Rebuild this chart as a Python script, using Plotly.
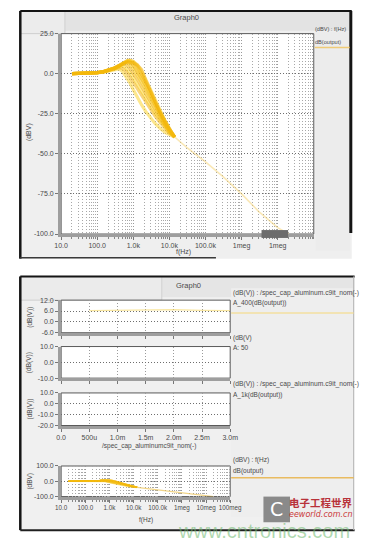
import plotly.graph_objects as go

W, H = 378, 545

# ---- frequency response family: dB(output) vs f(Hz) ----
freq = [20, 50, 100, 150, 200, 300, 400, 500, 600, 700, 800, 1000,
        1300, 1700, 2200, 3000, 4000, 5500, 7500, 10000, 14000]

resp_1 = [0, 0.2, 0.5, 1.0, 1.6, 2.6, 3.0, 1.5, -1.0, -3.5, -5.5, -10.0,
          -15.0, -19.5, -23.5, -27.5, -31.0, -34.0, -36.5, -38.0, -39.5]
resp_2 = [0, 0.2, 0.6, 1.1, 1.8, 2.9, 3.8, 3.5, 2.0, 0.0, -2.0, -5.5,
          -9.5, -13.5, -17.5, -22.5, -26.5, -30.5, -34.0, -37.0, -39.5]
resp_3 = [0, 0.2, 0.6, 1.2, 1.9, 3.1, 4.3, 5.0, 4.0, 2.5, 0.8, -2.5,
          -6.5, -10.5, -15.0, -20.0, -24.5, -29.0, -33.0, -36.5, -39.5]
resp_4 = [0, 0.2, 0.6, 1.2, 2.0, 3.3, 4.6, 5.8, 6.0, 5.0, 3.5, 0.5,
          -3.5, -8.0, -12.5, -17.5, -22.5, -27.5, -32.0, -36.0, -39.5]
resp_5 = [0, 0.2, 0.7, 1.3, 2.0, 3.4, 4.8, 6.1, 7.0, 6.8, 5.8, 3.0,
          -1.0, -5.5, -10.0, -15.5, -21.0, -26.5, -31.5, -35.5, -39.5]
resp_6 = [0, 0.2, 0.7, 1.3, 2.1, 3.5, 5.0, 6.3, 7.2, 7.5, 7.0, 4.8,
          1.0, -3.5, -8.0, -14.0, -19.5, -25.5, -31.0, -35.0, -39.5]
resp_7 = [0, 0.2, 0.7, 1.3, 2.1, 3.5, 5.0, 6.4, 7.4, 8.0, 7.9, 6.3,
          2.8, -1.8, -6.5, -12.5, -18.5, -24.5, -30.0, -34.8, -39.5]
resp_8 = [0, 0.2, 0.7, 1.3, 2.1, 3.6, 5.1, 6.5, 7.6, 8.3, 8.5, 7.5,
          4.5, -0.2, -5.0, -11.0, -17.5, -24.0, -29.5, -34.5, -39.5]
resp_9 = [0, 0.2, 0.7, 1.3, 2.1, 3.6, 5.1, 6.4, 7.4, 8.0, 8.1, 7.6,
          5.5, 1.5, -3.5, -10.0, -16.5, -23.0, -29.0, -34.2, -39.5]
resp_10 = [0, 0.2, 0.7, 1.3, 2.1, 3.5, 4.9, 6.1, 6.9, 7.3, 7.2, 6.8,
           5.4, 2.5, -4.0, -11.0, -17.5, -24.0, -29.5, -34.5, -39.5]
responses = [resp_1, resp_2, resp_3, resp_4, resp_5,
             resp_6, resp_7, resp_8, resp_9, resp_10]

# high-frequency roll-off shared by all runs
tail_freq = [14000, 30000, 100000, 300000, 1e6, 3e6, 1e7, 2e7]
tail_db = [-39.5, -46.0, -55.0, -64.0, -75.0, -86.0, -96.0, -100.0]

# ---- A_400 dB(output) vs /spec_cap_aluminum.c9it_nom ----
cap_nom = [0.5e-3, 1.0e-3, 1.5e-3, 2.0e-3, 2.5e-3, 3.0e-3]
a400_db = [6.2, 6.4, 6.9, 6.8, 6.4, 6.2]

# ---- tick definitions ----
freq_top_vals = [10, 100, 1e3, 1e4, 1e5, 1e6, 1e7]
freq_top_text = ["10.0", "100.0", "1.0k", "10.0k", "100.0k", "1meg", "1meg"]
freq_bot_vals = [10, 100, 1e3, 1e4, 1e5, 1e6, 1e7, 1e8]
freq_bot_text = ["10.0", "100.0", "1.0k", "10.0k", "100.0k", "1meg", "10meg", "100meg"]
db_top_vals = [-100, -75, -50, -25, 0, 25]
db_top_text = ["-100.0", "-75.0", "-50.0", "-25.0", "0.0", "25.0"]
cap_vals = [0, 0.5e-3, 1.0e-3, 1.5e-3, 2.0e-3, 2.5e-3, 3.0e-3]
cap_text = ["0.0", "500u", "1.0m", "1.5m", "2.0m", "2.5m", "3.0m"]
p1_vals, p1_text = [-6, 0, 6, 12], ["-6.0", "0.0", "6.0", "12.0"]
p2_vals, p2_text = [-10, 0, 10], ["-10.0", "0.0", "10.0"]
p3_vals, p3_text = [-20, -10, 0, 10], ["-20.0", "-10.0", "0.0", "10.0"]
p4_vals, p4_text = [-100, 0, 100], ["-100.0", "0.0", "100.0"]


def px(x):
    return x / W


def py(y):
    return 1 - y / H


FONT = "Liberation Sans"
TXT = "#4a4a4a"
DOTS = "1px,2px"


def tfont(size=7):
    return dict(family=FONT, size=size, color=TXT)


fig = go.Figure()

bundle_colors = ["rgba(252,208,30,0.5)", "rgba(240,172,0,0.5)"]
for k, r in enumerate(responses):
    c = bundle_colors[k % 2]
    fig.add_trace(go.Scatter(x=freq, y=r, mode="lines", line=dict(color=c, width=3.2),
                             xaxis="x", yaxis="y", hoverinfo="skip"))
    fig.add_trace(go.Scatter(x=freq, y=r, mode="lines", line=dict(color=c, width=1.6),
                             xaxis="x5", yaxis="y5", hoverinfo="skip"))
fig.add_trace(go.Scatter(x=tail_freq, y=tail_db, mode="lines",
                         line=dict(color="rgba(245,210,110,0.5)", width=1.6),
                         xaxis="x", yaxis="y", hoverinfo="skip"))
fig.add_trace(go.Scatter(x=tail_freq, y=tail_db, mode="lines",
                         line=dict(color="rgba(235,190,70,0.65)", width=1.2),
                         xaxis="x5", yaxis="y5", hoverinfo="skip"))
fig.add_trace(go.Scatter(x=cap_nom, y=a400_db, mode="lines",
                         line=dict(color="rgba(245,215,100,0.6)", width=1.3),
                         xaxis="x2", yaxis="y2", hoverinfo="skip"))
# A: 50 and A_1k sweeps have no points inside the shown window
fig.add_trace(go.Scatter(x=[], y=[], xaxis="x3", yaxis="y3"))
fig.add_trace(go.Scatter(x=[], y=[], xaxis="x4", yaxis="y4"))

# plot-area boxes in pixels (x0, x1, y0, y1)
BOX_TOP = (57, 323, 30, 233)
BOX_P1 = (57, 235, 300, 333)
BOX_P2 = (57, 235, 347, 379)
BOX_P3 = (57, 235, 394, 427)
BOX_P4 = (57, 235, 468, 499)


def dom(box):
    x0, x1, y0, y1 = box
    return [px(x0), px(x1)], [py(y1), py(y0)]


GRID = "#9a9a9a"
AXL = "#9e9e9e"


def xlog(box, anchor, vals, text, fs):
    xd, _ = dom(box)
    return dict(domain=xd, anchor=anchor, type="log", range=[1, 8],
                tickmode="array", tickvals=vals, ticktext=text, tickfont=tfont(fs),
                tickangle=0, ticks="outside", ticklen=3, tickcolor="#777",
                showline=True, linewidth=3, linecolor=AXL,
                showgrid=True, gridcolor=GRID, griddash=DOTS, gridwidth=1,
                minor=dict(dtick="D1", ticks="outside", ticklen=2, tickcolor="#888",
                           showgrid=True, gridcolor="#a8a8a8", griddash=DOTS, gridwidth=1),
                zeroline=False, fixedrange=True)


def xlin(box, anchor, labels):
    xd, _ = dom(box)
    return dict(domain=xd, anchor=anchor, range=[0, 3.0e-3],
                tickmode="array", tickvals=cap_vals, ticktext=cap_text,
                showticklabels=labels, tickfont=tfont(7), tickangle=0,
                ticks="outside", ticklen=3, tickcolor="#777",
                showline=True, linewidth=3, linecolor=AXL,
                showgrid=True, gridcolor=GRID, griddash=DOTS, gridwidth=1,
                zeroline=False, fixedrange=True)


def ylin(box, anchor, rng, vals, text):
    _, yd = dom(box)
    return dict(domain=yd, anchor=anchor, range=rng,
                tickmode="array", tickvals=vals, ticktext=text, tickfont=tfont(7),
                ticks="outside", ticklen=3, tickcolor="#777",
                showline=True, linewidth=3, linecolor=AXL,
                showgrid=True, gridcolor="#6e6e6e", griddash=DOTS, gridwidth=1,
                zeroline=False, fixedrange=True)


fig.update_layout(
    xaxis=xlog(BOX_TOP, "y", freq_top_vals, freq_top_text, 7),
    yaxis=ylin(BOX_TOP, "x", [-100, 25], db_top_vals, db_top_text),
    xaxis2=xlin(BOX_P1, "y2", False),
    yaxis2=ylin(BOX_P1, "x2", [-6, 12], p1_vals, p1_text),
    xaxis3=xlin(BOX_P2, "y3", False),
    yaxis3=ylin(BOX_P2, "x3", [-10, 10], p2_vals, p2_text),
    xaxis4=xlin(BOX_P3, "y4", True),
    yaxis4=ylin(BOX_P3, "x4", [-20, 10], p3_vals, p3_text),
    xaxis5=xlog(BOX_P4, "y5", freq_bot_vals, freq_bot_text, 6.3),
    yaxis5=ylin(BOX_P4, "x5", [-100, 100], p4_vals, p4_text),
)

shapes = []


def rect(x0, x1, y0, y1, fill=None, line=None, lw=0, layer="below"):
    shapes.append(dict(type="rect", xref="paper", yref="paper",
                       x0=px(x0), x1=px(x1), y0=py(y1), y1=py(y0),
                       fillcolor=fill or "rgba(0,0,0,0)",
                       line=dict(color=line or "rgba(0,0,0,0)", width=lw),
                       layer=layer))


def hline(x0, x1, y, color, lw, layer="above"):
    shapes.append(dict(type="line", xref="paper", yref="paper",
                       x0=px(x0), x1=px(x1), y0=py(y), y1=py(y),
                       line=dict(color=color, width=lw), layer=layer))


def vline(x, y0, y1, color, lw, layer="above"):
    shapes.append(dict(type="line", xref="paper", yref="paper",
                       x0=px(x), x1=px(x), y0=py(y0), y1=py(y1),
                       line=dict(color=color, width=lw), layer=layer))


# window backgrounds
rect(14, 363, 7, 258, fill="#efefef")
rect(14, 363, 7, 27, fill="#e3e3e3")
rect(14, 61, 7, 30, fill="#ececec", line="#cfcfcf", lw=1)
rect(14, 366, 276, 533, fill="#f0f0f0")
rect(14, 366, 276, 297, fill="#e5e5e5")
rect(14, 163, 276, 300, fill="#ebebeb", line="#d0d0d0", lw=1)
# legend strips
rect(325, 361, 28, 250, fill="#ececec")
rect(236, 364, 288, 520, fill="#eeeeee")
# white plot areas
for b in (BOX_TOP, BOX_P1, BOX_P2, BOX_P3, BOX_P4):
    rect(b[0], b[1], b[2], b[3], fill="#ffffff", line="#5a5a5a", lw=1)

# window frames
vline(14, 7, 258, "#151515", 2.5)
hline(14, 363, 7, "#151515", 2)
vline(362, 7, 232, "#151515", 3)
hline(14, 220, 257, "#3a3a3a", 1.5)
vline(14, 276, 533, "#151515", 2.5)
hline(14, 366, 276, "#151515", 2)
hline(14, 366, 533, "#202020", 2)
vline(365, 276, 533, "#b5b5b5", 1)

# legend swatches
hline(324, 361, 44, "rgba(240,195,90,0.8)", 1.5)
hline(236, 365, 313, "rgba(245,220,140,0.8)", 1.5)
hline(236, 365, 480, "rgba(232,178,70,0.85)", 1.5)

# scroll marker on the top frequency axis
shapes.append(dict(type="rect", xref="paper", yref="paper",
                   x0=px(268), x1=px(296), y0=py(237), y1=py(229),
                   fillcolor="#6c6c6c", line=dict(width=0), layer="above"))

# watermark logo block
rect(270, 298, 499, 525, fill="#8a8a8a", layer="above")

annotations = []


def text(x, y, s, size=7, color=TXT, anchor="left", angle=0, family=FONT):
    annotations.append(dict(x=px(x), y=py(y), xref="paper", yref="paper", text=s,
                            showarrow=False, xanchor=anchor, yanchor="middle",
                            textangle=angle, borderpad=0,
                            font=dict(family=family, size=size, color=color)))


text(189, 14, "Graph0", 7.5, anchor="center")
text(191, 285, "Graph0", 7.5, anchor="center")

text(323, 25, "(dBV) : f(Hz)", 5.6)
text(323, 38, "dB(output)", 5.6)
text(186, 251, "f(Hz)", 7, anchor="center")
text(24, 130, "(dBV)", 7, anchor="center", angle=-90)

text(237, 293, "(dB(V)) : /spec_cap_aluminum.c9it_nom(-)", 6.7)
text(237, 303, "A_400(dB(output))", 6.5)
text(237, 338, "(dB(V)", 6.5)
text(237, 348, "A: 50", 6.5)
text(237, 385, "(dB(V)) : /spec_cap_aluminum.c9it_nom(-)", 6.7)
text(237, 396, "A_1k(dB(output))", 6.5)
text(237, 462, "(dBV) : f(Hz)", 6.5)
text(237, 473, "dB(output)", 6.5)

text(24, 317, "(dB(V))", 6.5, anchor="center", angle=-90)
text(24, 363, "(dB(V))", 6.5, anchor="center", angle=-90)
text(24, 410, "(dB(V))", 6.5, anchor="center", angle=-90)
text(24, 483, "(dBV)", 6.5, anchor="center", angle=-90)

text(150, 448, "/spec_cap_aluminumc9it_nom(-)", 6.5, anchor="center")
text(146, 523, "f(Hz)", 6.5, anchor="center")

# watermark
text(284, 512, "C", 19, color="#ffffff", anchor="center", family="DejaVu Sans")
text(331, 505, "<b>电子工程世界</b>", 10.5, color="#b8323a", anchor="center",
     family="Noto Sans CJK SC")
text(331, 517, "<i>eeworld.com.cn</i>", 8, color="#cc3a3a", anchor="center",
     family="DejaVu Sans")
text(271, 534, "www.cntronics.com", 20, color="rgba(110,185,110,0.55)", anchor="center",
     family=FONT)

fig.update_layout(
    width=W, height=H, margin=dict(l=0, r=0, t=0, b=0),
    paper_bgcolor="#ffffff", plot_bgcolor="rgba(0,0,0,0)",
    showlegend=False, shapes=shapes, annotations=annotations,
)

fig.write_html("out.html")
